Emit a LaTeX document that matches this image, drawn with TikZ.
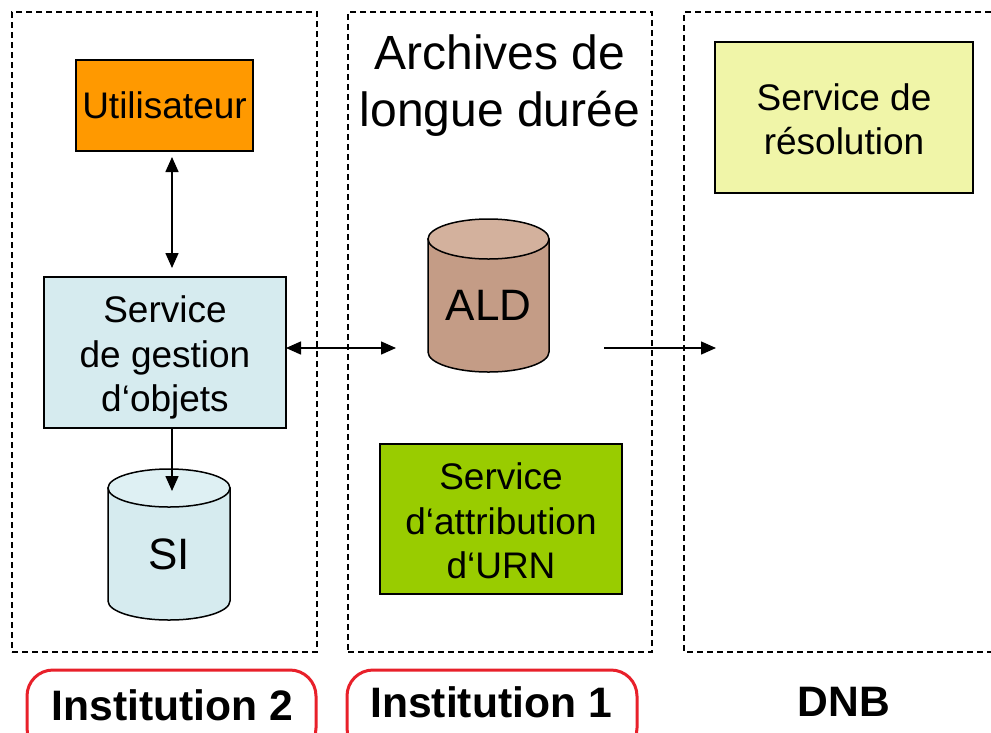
\documentclass[tikz,border=0pt]{standalone}
\usepackage{fontspec}
\setmainfont{Liberation Sans}
\usetikzlibrary{arrows.meta,calc}
\definecolor{orangeU}{HTML}{FF9900}
\definecolor{blueG}{HTML}{D6EBEF}
\definecolor{blueTop}{HTML}{DEF0F3}
\definecolor{brownB}{HTML}{C49C86}
\definecolor{brownT}{HTML}{D3B19D}
\definecolor{greenA}{HTML}{99CC00}
\definecolor{yellowR}{HTML}{F0F5A8}
\definecolor{redL}{HTML}{E8202A}
\newcommand\drawcyl[7]{%
  \filldraw[fill=#6, line width=1.5pt] (#1-#4,#2) -- (#1-#4,#3)
    arc[start angle=180, end angle=0, x radius=#4, y radius=#5] -- (#1+#4,#2) -- cycle;
  \filldraw[fill=#7, line width=1.5pt] (#1,#2) ellipse[x radius=#4, y radius=#5];
}
\begin{document}
\begin{tikzpicture}[x=1pt,y=-1pt,
 every node/.style={inner sep=0pt, outer sep=0pt},
 zone/.style={draw, line width=1.6pt, dash pattern=on 6pt off 4pt},
 svc/.style={draw, line width=1.6pt, align=center, font=\fontsize{37}{44.5}\selectfont},
 cyltxt/.style={font=\fontsize{44}{50}\selectfont, minimum width=121pt},
 conn/.style={line width=1.5pt, -{Triangle[length=15pt,width=13pt]}},
 dconn/.style={line width=1.5pt, {Triangle[length=15pt,width=13pt]}-{Triangle[length=15pt,width=13pt]}},
 redbox/.style={draw=redL, line width=3pt, rounded corners=26pt},
 lbl/.style={font=\fontsize{42.6}{48}\selectfont\bfseries}
]
\fill[white] (0,0) rectangle (991,732);
\useasboundingbox (0,0) rectangle (991,732);

% zones
\node[zone, minimum width=305pt, minimum height=640pt] (z2) at (164.5,332) {};
\node[zone, minimum width=304pt, minimum height=640pt] (z1) at (500,332) {};
\draw[zone] (991,12) -- (684,12) -- (684,652) -- (991,652);

% title
\node[font=\fontsize{48}{57}\selectfont, align=center] (title) at (500,86) {Archives de\\longue durée};

% services
\node[svc, fill=orangeU, minimum width=177pt, minimum height=91pt] (util) at (164.5,105.5) {Utilisateur};
\node[svc, fill=blueG, minimum width=242pt, minimum height=151pt] (gest) at (165,352.5) {\rule{0pt}{37pt}Service\\de gestion\\d‘objets};
\node[svc, fill=greenA, minimum width=242pt, minimum height=150pt] (attr) at (501,519) {\rule{0pt}{31pt}Service\\d‘attribution\\d‘URN};
\node[svc, fill=yellowR, minimum width=258pt, minimum height=151pt] (res) at (844,117.5) {\rule{0pt}{30pt}Service de\\résolution};

% cylinders
\drawcyl{169}{488}{601}{61}{19}{blueG}{blueTop}
\node[cyltxt, minimum height=132pt] (SI) at (169,554) {SI};
\drawcyl{488.5}{239}{352}{60.5}{20}{brownB}{brownT}
\node[cyltxt, minimum height=133pt] (ALD) at (488.5,305.5) {ALD};

% connectors
\draw[dconn] ([xshift=7.5pt,yshift=-6pt]util.south) -- ([xshift=7pt,yshift=9pt]gest.north);
\draw[conn] ([xshift=7pt]gest.south) -- ([xshift=3pt,yshift=-3pt]SI.north);
\draw[dconn] ([yshift=4.5pt]gest.east) -- ([xshift=-32pt,yshift=-42.5pt]ALD.west);
\coordinate (dnbin) at (716,348);
\draw[conn] ([xshift=55pt,yshift=-42.5pt]ALD.east) -- (dnbin);

% bottom labels
\node[redbox, minimum width=289pt, minimum height=84pt] (b2) at (171.5,712) {};
\node[redbox, minimum width=290pt, minimum height=84pt] (b1) at (492,712) {};
\node[lbl] (inst2) at (172.5,705) {Institution 2};
\node[lbl] (inst1) at (491,702) {Institution 1};
\node[lbl] (dnb) at (844,702) {DNB};
\end{tikzpicture}
\end{document}
